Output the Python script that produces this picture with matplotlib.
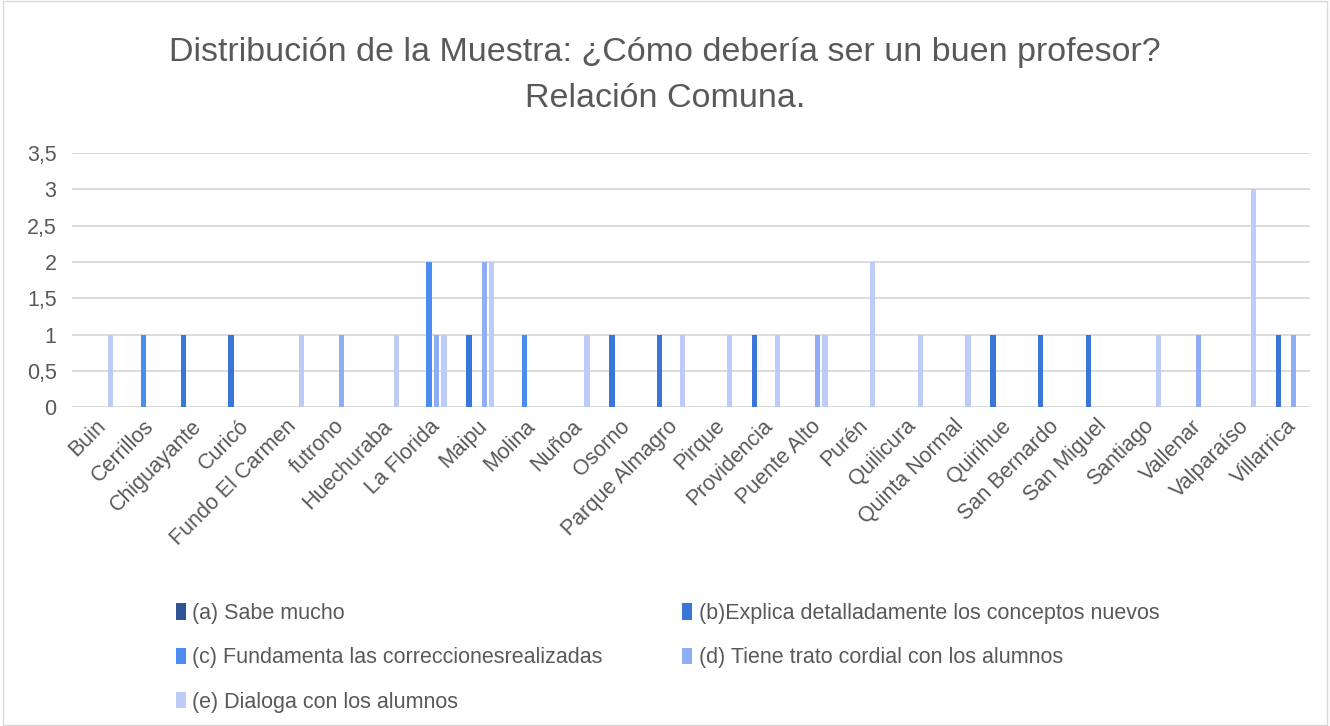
import matplotlib.pyplot as plt
import numpy as np

plt.rcParams['font.family'] = ['Liberation Sans', 'DejaVu Sans']

comunas = ['Buin', 'Cerrillos', 'Chiguayante', 'Curicó', 'Fundo El Carmen', 'futrono',
           'Huechuraba', 'La Florida', 'Maipu', 'Molina', 'Nuñoa', 'Osorno',
           'Parque Almagro', 'Pirque', 'Providencia', 'Puente Alto', 'Purén',
           'Quilicura', 'Quinta Normal', 'Quirihue', 'San Bernardo', 'San Miguel',
           'Santiago', 'Vallenar', 'Valparaíso', 'Villarrica']

series_names = ['(a) Sabe mucho',
                '(b)Explica detalladamente los conceptos nuevos',
                '(c) Fundamenta las correccionesrealizadas',
                '(d) Tiene trato cordial con los alumnos',
                '(e) Dialoga con los alumnos']

a_vals = [0, 0, 0, 0, 0, 0, 0, 0, 0, 0, 0, 0, 0, 0, 0, 0, 0, 0, 0, 0, 0, 0, 0, 0, 0, 0]
b_vals = [0, 0, 1, 1, 0, 0, 0, 0, 1, 0, 0, 1, 1, 0, 1, 0, 0, 0, 0, 1, 1, 1, 0, 0, 0, 1]
c_vals = [0, 1, 0, 0, 0, 0, 0, 2, 0, 1, 0, 0, 0, 0, 0, 0, 0, 0, 0, 0, 0, 0, 0, 0, 0, 0]
d_vals = [0, 0, 0, 0, 0, 1, 0, 1, 2, 0, 0, 0, 0, 0, 0, 1, 0, 0, 0, 0, 0, 0, 0, 1, 0, 1]
e_vals = [1, 0, 0, 0, 1, 0, 1, 1, 2, 0, 1, 0, 1, 1, 1, 1, 2, 1, 1, 0, 0, 0, 1, 0, 3, 0]

colors = ['#2F5597', '#3A76D8', '#4A8CF0', '#8FAEF5', '#BCCBF8']

fig = plt.figure(figsize=(13.3, 7.26), dpi=100)
ax = fig.add_axes([0.054, 0.439, 0.931, 0.350])

x = np.arange(len(comunas))
step = 0.158
handles = []
for k, vals in enumerate([a_vals, b_vals, c_vals, d_vals, e_vals]):
    h = ax.bar(x + (k - 2) * step, vals, width=0.11, color=colors[k],
               label=series_names[k], zorder=3)
    handles.append(h)

ax.set_xlim(-0.5, len(comunas) - 0.5)
ax.set_ylim(0, 3.5)
yt = np.arange(0, 3.51, 0.5)
ax.set_yticks(yt)
ax.set_yticklabels([('%g' % v).replace('.', ',') for v in yt], color='#595959', fontsize=15.5)
ax.set_xticks(x)
ax.set_xticklabels(comunas, rotation=45, ha='right', va='top', rotation_mode='anchor',
                   color='#595959', fontsize=15.5)
ax.tick_params(axis='y', length=0, pad=11)
ax.tick_params(axis='x', length=0, pad=6)
ax.grid(axis='y', color='#D9D9D9', linewidth=1.3, zorder=0)
for s in ax.spines.values():
    s.set_visible(False)

fig.text(0.5, 0.928, 'Distribución de la Muestra: ¿Cómo debería ser un buen profesor?',
         ha='center', va='center', fontsize=24.5, color='#595959')
fig.text(0.5, 0.864, 'Relación Comuna.', ha='center', va='center', fontsize=24.5, color='#595959')

order = [0, 2, 4, 1, 3]
leg = fig.legend([handles[i] for i in order], [series_names[i] for i in order],
                 ncol=2, loc='upper left', bbox_to_anchor=(0.118, 0.196),
                 frameon=False, fontsize=15.5, handlelength=0.45, handleheight=0.8,
                 handletextpad=0.3, columnspacing=3.7, labelspacing=1.08,
                 labelcolor='#595959')

fig.patches.append(plt.Rectangle((0.002, 0.002), 0.996, 0.996, transform=fig.transFigure,
                                 fill=False, edgecolor='#D9D9D9', linewidth=1))

fig.savefig('out.png', dpi=100)
